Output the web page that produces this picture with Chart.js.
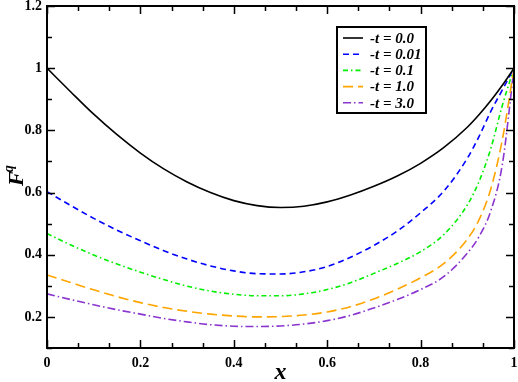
<!DOCTYPE html>
<html>
<head>
<meta charset="utf-8">
<script src="https://cdn.jsdelivr.net/npm/chart.js@4.4.1/dist/chart.umd.min.js"></script>
<style>
  html, body { margin: 0; padding: 0; background: #fff; }
  #wrap { width: 518px; height: 382px; }
</style>
</head>
<body>
<div id="wrap"><canvas id="fq_chart" width="518" height="382"></canvas></div>
<script>
// sample positions along x
const xs = [0, 0.05, 0.1, 0.15, 0.2, 0.25, 0.3, 0.35, 0.4, 0.45, 0.5, 0.55, 0.6,
            0.65, 0.7, 0.75, 0.8, 0.85, 0.9, 0.925, 0.95, 0.975, 1];

// F^q, one array per -t
const fT0   = [1.0, 0.925, 0.852, 0.786, 0.727, 0.676, 0.634, 0.600, 0.574, 0.558, 0.552, 0.556, 0.570,
               0.592, 0.620, 0.653, 0.694, 0.745, 0.810, 0.850, 0.895, 0.945, 1.0];
const fT001 = [0.603, 0.559, 0.517, 0.479, 0.445, 0.413, 0.386, 0.364, 0.348, 0.339, 0.338, 0.345, 0.362,
               0.392, 0.430, 0.476, 0.535, 0.605, 0.710, 0.780, 0.860, 0.930, 1.0];
const fT01  = [0.468, 0.432, 0.399, 0.370, 0.344, 0.320, 0.299, 0.283, 0.273, 0.268, 0.268, 0.274, 0.288,
               0.310, 0.340, 0.372, 0.410, 0.465, 0.560, 0.635, 0.740, 0.880, 1.0];
const fT1   = [0.335, 0.311, 0.287, 0.265, 0.246, 0.230, 0.218, 0.209, 0.203, 0.200, 0.201, 0.206, 0.216,
               0.233, 0.258, 0.289, 0.326, 0.372, 0.450, 0.512, 0.610, 0.770, 1.0];
const fT3   = [0.274, 0.256, 0.239, 0.223, 0.209, 0.195, 0.184, 0.175, 0.170, 0.169, 0.171, 0.177, 0.188,
               0.205, 0.229, 0.256, 0.288, 0.330, 0.405, 0.458, 0.540, 0.690, 1.0];

const seriesLabels = ['-t = 0.0', '-t = 0.01', '-t = 0.1', '-t = 1.0', '-t = 3.0'];

const xTicks = [0, 0.2, 0.4, 0.6, 0.8, 1];
const yTicks = [0.2, 0.4, 0.6, 0.8, 1, 1.2];

const serif = "'Liberation Serif', 'DejaVu Serif', serif";

function pts(ys) {
  return xs.map((x, i) => ({ x: x, y: ys[i] }));
}

function line(label, ys, color, dash, width) {
  return {
    label: label,
    data: pts(ys),
    borderColor: color,
    backgroundColor: color,
    borderDash: dash,
    borderWidth: width,
    pointRadius: 0,
    fill: false,
    cubicInterpolationMode: 'monotone'
  };
}

// frame, inside ticks, axis titles and the boxed legend
const decorations = {
  id: 'decorations',
  afterDraw(chart) {
    const ctx = chart.ctx;
    const a = chart.chartArea;
    const sx = chart.scales.x, sy = chart.scales.y;
    ctx.save();
    ctx.strokeStyle = '#000';
    ctx.lineWidth = 2;
    ctx.setLineDash([]);
    ctx.strokeRect(a.left, a.top, a.right - a.left, a.bottom - a.top);

    ctx.lineWidth = 1.5;
    ctx.beginPath();
    // x ticks: majors every 0.2, two minors between
    for (let i = 0; i <= 15; i++) {
      const v = i / 15;
      const px = Math.round(sx.getPixelForValue(v)) + 0.5;
      const len = (i % 3 === 0) ? 8 : 5;
      ctx.moveTo(px, a.bottom); ctx.lineTo(px, a.bottom - len);
      ctx.moveTo(px, a.top); ctx.lineTo(px, a.top + len);
    }
    // y ticks: majors every 0.2, minors at the odd tenths
    for (let i = 1; i <= 12; i++) {
      const v = i / 10;
      const py = Math.round(sy.getPixelForValue(v)) + 0.5;
      const len = (i % 2 === 0) ? 8 : 5;
      ctx.moveTo(a.left, py); ctx.lineTo(a.left + len, py);
      ctx.moveTo(a.right, py); ctx.lineTo(a.right - len, py);
    }
    ctx.stroke();

    // axis titles
    ctx.fillStyle = '#000';
    ctx.font = 'italic bold 24px ' + serif;
    ctx.textAlign = 'center';
    ctx.textBaseline = 'alphabetic';
    ctx.fillText('x', (a.left + a.right) / 2, 379);

    ctx.save();
    ctx.translate(23, 186);
    ctx.rotate(-Math.PI / 2);
    ctx.textAlign = 'left';
    ctx.font = 'italic bold 22px ' + serif;
    ctx.fillText('F', 0, 0);
    const fw = ctx.measureText('F').width;
    ctx.font = 'italic bold 14px ' + serif;
    ctx.fillText('q', fw - 1, -10);
    ctx.restore();

    // legend
    const bx = 337, by = 27, bw = 89, bh = 86;
    ctx.fillStyle = '#fff';
    ctx.fillRect(bx, by, bw, bh);
    ctx.lineWidth = 2;
    ctx.strokeStyle = '#000';
    ctx.strokeRect(bx, by, bw, bh);
    ctx.font = 'italic bold 15px ' + serif;
    ctx.textAlign = 'left';
    ctx.textBaseline = 'middle';
    chart.data.datasets.forEach((ds, i) => {
      const y = by + 11 + i * 16.2;
      ctx.strokeStyle = ds.borderColor;
      ctx.lineWidth = ds.borderWidth;
      ctx.setLineDash(ds.borderDash);
      ctx.beginPath();
      ctx.moveTo(bx + 6, y);
      ctx.lineTo(bx + 26, y);
      ctx.stroke();
      ctx.setLineDash([]);
      ctx.fillStyle = '#000';
      ctx.fillText(ds.label, bx + 33, y + 1);
    });
    ctx.restore();
  }
};

document.addEventListener('DOMContentLoaded', () => {
  const ctx = document.getElementById('fq_chart').getContext('2d');
  new Chart(ctx, {
    type: 'line',
    data: {
      datasets: [
        line(seriesLabels[0], fT0, '#000000', [], 1.6),
        line(seriesLabels[1], fT001, '#0000ff', [6, 4], 1.6),
        line(seriesLabels[2], fT01, '#00ee00', [5, 3, 1.5, 3], 1.6),
        line(seriesLabels[3], fT1, '#ffa500', [10, 5], 1.6),
        line(seriesLabels[4], fT3, '#8a35cf', [8, 3, 1.5, 3], 1.6)
      ]
    },
    options: {
      responsive: false,
      animation: false,
      layout: { padding: { top: 6, right: 4, left: 0, bottom: 0 } },
      plugins: {
        legend: { display: false },
        tooltip: { enabled: false }
      },
      scales: {
        x: {
          type: 'linear',
          min: 0,
          max: 1,
          grid: { display: false, drawTicks: false },
          border: { display: false },
          afterFit: (s) => { s.height = 34; s.paddingLeft = 0; s.paddingRight = 0; },
          afterBuildTicks: (s) => { s.ticks = xTicks.map(v => ({ value: v })); },
          ticks: {
            padding: 7,
            color: '#000',
            maxRotation: 0,
            font: { family: serif, size: 14, weight: 'bold' },
            callback: (v) => String(v)
          }
        },
        y: {
          type: 'linear',
          min: 0.1,
          max: 1.2,
          grid: { display: false, drawTicks: false },
          border: { display: false },
          afterFit: (s) => { s.width = 47; s.paddingTop = 0; s.paddingBottom = 0; },
          afterBuildTicks: (s) => { s.ticks = yTicks.map(v => ({ value: v })); },
          ticks: {
            padding: 5,
            color: '#000',
            font: { family: serif, size: 14, weight: 'bold' },
            callback: (v) => String(v)
          }
        }
      }
    },
    plugins: [decorations]
  });
});
</script>
</body>
</html>
